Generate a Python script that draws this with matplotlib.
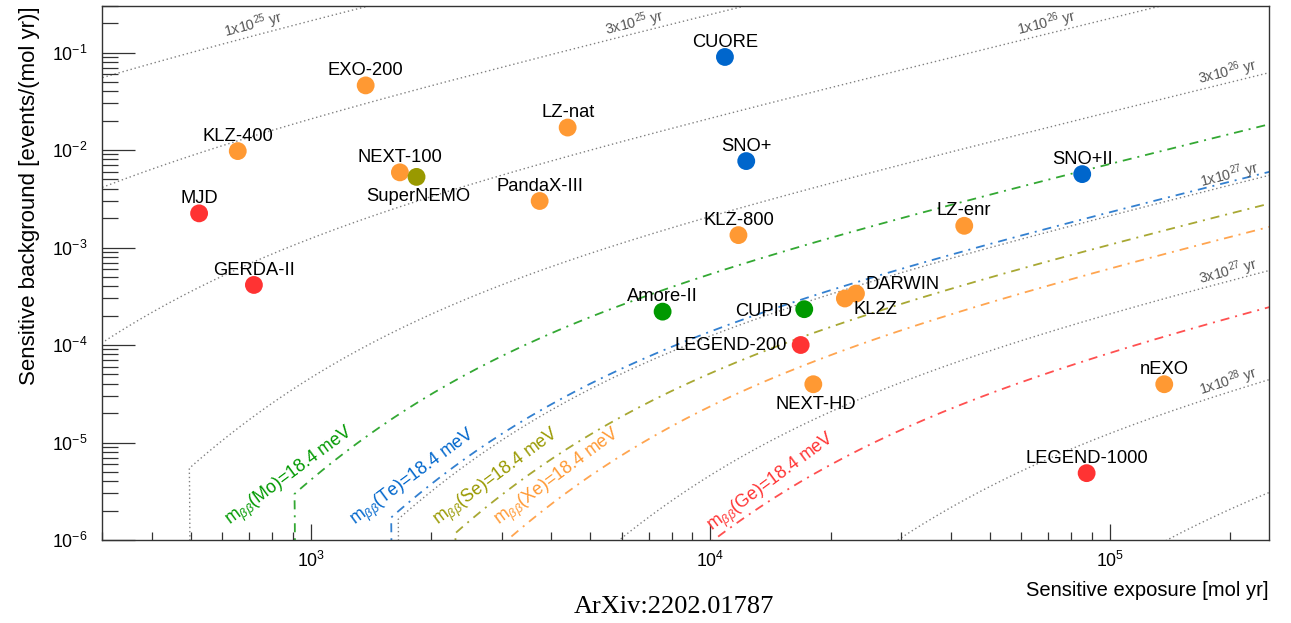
import math
import numpy as np
import matplotlib
matplotlib.use("Agg")
import matplotlib.pyplot as plt

plt.rcParams["font.family"] = ["Liberation Sans", "DejaVu Sans"]
plt.rcParams["mathtext.fontset"] = "custom"
plt.rcParams["mathtext.rm"] = "Liberation Sans"
plt.rcParams["mathtext.it"] = "Liberation Sans:italic"
plt.rcParams["mathtext.bf"] = "Liberation Sans:bold"

# Experiments: sensitive exposure [mol yr], sensitive background [events/(mol yr)]
experiments = ["CUORE", "EXO-200", "LZ-nat", "KLZ-400", "SNO+", "NEXT-100", "SuperNEMO",
               "MJD", "PandaX-III", "SNO+II", "KLZ-800", "LZ-enr", "GERDA-II", "Amore-II",
               "CUPID", "DARWIN", "KL2Z", "LEGEND-200", "NEXT-HD", "nEXO", "LEGEND-1000"]
exposure = [10870, 1371, 4391, 656, 12290, 1670, 1838,
            525, 3737, 85200, 11750, 43170, 720, 7590,
            17170, 23130, 21700, 16820, 18090, 136700, 87400]
background = [9.0e-2, 4.6e-2, 1.7e-2, 9.75e-3, 7.7e-3, 5.9e-3, 5.3e-3,
              2.24e-3, 3.0e-3, 5.66e-3, 1.34e-3, 1.67e-3, 4.13e-4, 2.2e-4,
              2.33e-4, 3.37e-4, 3.0e-4, 1.0e-4, 3.96e-5, 3.96e-5, 4.85e-6]
isotope = ["Te", "Xe", "Xe", "Xe", "Te", "Xe", "Se",
           "Ge", "Xe", "Te", "Xe", "Xe", "Ge", "Mo",
           "Mo", "Xe", "Xe", "Ge", "Xe", "Xe", "Ge"]
# label placement: offset in points, ha, va
label_pos = {
    "SuperNEMO": (1.5, -8.0, "center", "top"),
    "NEXT-HD": (2.0, -8.4, "center", "top"),
    "CUPID": (-8.6, -1.5, "right", "center"),
    "LEGEND-200": (-10.0, -0.5, "right", "center"),
    "DARWIN": (7.2, 6.5, "left", "center"),
    "KL2Z": (6.5, -8.0, "left", "center"),
}

iso_colors = {"Ge": "#FF3333", "Mo": "#009900", "Se": "#999900", "Te": "#0066CC", "Xe": "#FF9933"}
line_colors = {"Ge": "#FF5050", "Mo": "#33A833", "Se": "#A8A833", "Te": "#3380D0", "Xe": "#FFA550"}

# half-life contours [yr]
halflives = [1e25, 3e25, 1e26, 3e26, 1e27, 3e27, 1e28, 3e28]
hl_labels = {1e25: (716, 0.1905), 3e25: (6470, 0.198), 1e26: (69430, 0.198),
             3e26: (197400, 0.0633), 1e27: (199700, 5.53e-3), 3e27: (197400, 5.65e-4),
             1e28: (197400, 4.22e-5)}
hl_text = {1e25: "1", 3e25: "3", 1e26: "1", 3e26: "3", 1e27: "1", 3e27: "3", 1e28: "1"}

# half-lives corresponding to m_bb = 18.4 meV for each isotope [yr]
mbb_iso = ["Mo", "Te", "Se", "Xe", "Ge"]
mbb_halflife = [5.5e26, 9.6e26, 1.39e27, 1.82e27, 4.54e27]
mbb_label_at = [(886, 4.49e-6), (1810, 4.35e-6), (2916, 4.35e-6), (4152, 4.35e-6), (14230, 3.87e-6)]

N_A = 6.02214076e23
ALPHA = 2.7e-3


def gammp(a, x):
    if x <= 0:
        return 0.0
    if a > 150:
        z = ((x / a) ** (1.0 / 3) - 1 + 1.0 / (9 * a)) * 3 * math.sqrt(a)
        return 0.5 * math.erfc(-z / math.sqrt(2))
    lg = a * math.log(x) - x - math.lgamma(a)
    if x < a + 1:
        ap = a
        s = d = 1.0 / a
        for _ in range(3000):
            ap += 1
            d *= x / ap
            s += d
            if abs(d) < abs(s) * 1e-12:
                break
        return s * math.exp(lg)
    b = x + 1 - a
    c = 1e300
    d = 1 / b
    h = d
    for i in range(1, 3000):
        an = -i * (i - a)
        b += 2
        d = an * d + b
        if abs(d) < 1e-300:
            d = 1e-300
        c = b + an / c
        if abs(c) < 1e-300:
            c = 1e-300
        d = 1 / d
        de = d * c
        h *= de
        if abs(de - 1) < 1e-12:
            break
    return 1 - math.exp(lg) * h


def s3sigma(lam):
    # signal counts for 3 sigma discovery with 50% probability
    if 1 - math.exp(-lam) <= ALPHA:
        nc = 1.0
    else:
        lo, hi = 1.0, lam + 10 * math.sqrt(lam) + 20
        for _ in range(55):
            mid = 0.5 * (lo + hi)
            if gammp(mid, lam) > ALPHA:
                lo = mid
            else:
                hi = mid
        nc = 0.5 * (lo + hi)
    lo, hi = 0.0, nc + 6 * math.sqrt(nc) + 6
    for _ in range(55):
        mid = 0.5 * (lo + hi)
        if gammp(nc, mid) < 0.5:
            lo = mid
        else:
            hi = mid
    return 0.5 * (lo + hi) - lam


lam = np.sort(np.append(np.logspace(-5, 5.3, 260), ALPHA))
S = np.array([s3sigma(v) for v in lam])


def curve(T):
    E = T * S / (math.log(2) * N_A)
    return E, lam / E


fig = plt.figure(figsize=(12.91, 6.23), dpi=100)
ax = fig.add_axes([102 / 1291, 83 / 623, 1167 / 1291, 534 / 623])
ax.set_xscale("log")
ax.set_yscale("log")
ax.set_xlim(300, 2.5e5)
ax.set_ylim(1e-6, 0.3)

for T in halflives:
    E, B = curve(T)
    ax.plot(E, B, color="#808080", lw=1.0, ls=(0, (1, 2)), zorder=1)

for iso, T in zip(mbb_iso, mbb_halflife):
    E, B = curve(T)
    ax.plot(E, B, color=line_colors[iso], lw=1.3, dashes=(5, 3.3, 1.1, 3.3), zorder=2)


def angle_at(E, B, x0):
    i = int(np.argmin(np.abs(np.log(E) - np.log(x0))))
    i = min(max(i, 1), len(E) - 2)
    p = ax.transData.transform(np.column_stack([E[i - 1:i + 2], B[i - 1:i + 2]]))
    return math.degrees(math.atan2(p[2, 1] - p[0, 1], p[2, 0] - p[0, 0]))


for T, (xl, yl) in hl_labels.items():
    E, B = curve(T)
    rot = angle_at(E, B, xl)
    exp = int(round(math.log10(T / float(hl_text[T]))))
    ax.text(xl, yl, hl_text[T] + "x10$^{%d}$ yr" % exp, color="#555555", fontsize=10.3,
            rotation=rot, rotation_mode="anchor", ha="center", va="center", zorder=3)

for iso, (xl, yl) in zip(mbb_iso, mbb_label_at):
    ax.text(xl, yl, r"m$_{\beta\beta}$(" + iso + ")=18.4 meV", color=iso_colors[iso],
            fontsize=12.8, rotation=36.5, rotation_mode="anchor", ha="center", va="center",
            zorder=3)

ax.scatter(exposure, background, s=165, c=[iso_colors[i] for i in isotope],
           edgecolors="none", zorder=4)

for name, x, y in zip(experiments, exposure, background):
    dx, dy, ha, va = label_pos.get(name, (0.0, 7.5, "center", "baseline"))
    ax.annotate(name, (x, y), xytext=(dx, dy), textcoords="offset points",
                ha=ha, va=va, fontsize=13.2, color="black", zorder=5)

for sp in ax.spines.values():
    sp.set_color("#333333")
    sp.set_linewidth(1.0)
ax.tick_params(which="both", direction="in", top=False, right=False, colors="#333333",
               labelcolor="black", width=0.9)
ax.tick_params(axis="y", which="major", length=24, pad=10.5, labelsize=12.8)
ax.tick_params(axis="y", which="minor", length=11.5)
ax.tick_params(axis="x", which="major", length=11.5, pad=8, labelsize=12.8)
ax.tick_params(axis="x", which="minor", length=5.8)

ax.set_xlabel("Sensitive exposure [mol yr]", loc="right", fontsize=14.5)
ax.xaxis.set_label_coords(1.0, -0.077)
ax.set_ylabel("Sensitive background [events/(mol yr)]", loc="top", fontsize=16)
ax.yaxis.set_label_coords(-0.053, 1.0)

fig.text(674 / 1291, 1 - 607 / 623, "ArXiv:2202.01787", ha="center", va="center",
         fontsize=19, family=["Liberation Serif", "DejaVu Serif"])

fig.savefig("out.png", dpi=100)
